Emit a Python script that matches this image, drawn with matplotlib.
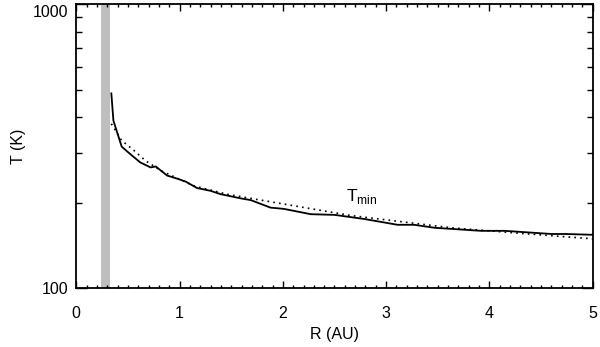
import matplotlib
matplotlib.use("Agg")
import matplotlib.pyplot as plt
import matplotlib.transforms as mtransforms
from matplotlib.ticker import FixedLocator, MultipleLocator, NullFormatter

plt.rcParams["font.family"] = ["Liberation Sans", "DejaVu Sans"]

# 实线：模拟得到的最低温度
r_solid = [0.34, 0.36, 0.44, 0.52, 0.62, 0.72, 0.77, 0.88, 0.99, 1.06, 1.17, 1.30,
           1.40, 1.59, 1.69, 1.88, 2.01, 2.27, 2.50, 2.79, 3.11, 3.27, 3.47, 3.92,
           4.15, 4.60, 4.73, 5.0]
t_solid = [485, 389, 315, 297, 277, 266, 268, 249, 242, 237, 225, 220,
           214, 207, 204, 192, 190, 182, 181, 175, 167, 167, 163, 159,
           159, 155, 155, 154]

# 点线：解析近似
r_dot = [0.34, 0.44, 0.56, 0.67, 0.82, 1.14, 1.46, 1.72, 2.66, 3.63, 4.28, 5.0]
t_dot = [379, 331, 305, 281, 259, 229, 214, 206, 180, 163, 156, 149]

band = (0.24, 0.33)
label_pos = (2.61, 210)

fig = plt.figure(figsize=(6.0, 3.47), dpi=100)
ax = fig.add_axes([0.127, 0.170, 0.861, 0.818])

ax.axvspan(*band, color="#bebebe", lw=0)
ax.plot(r_solid, t_solid, color="black", lw=1.3)
ax.plot(r_dot, t_dot, color="black", lw=1.2, ls=(0, (1, 2.5)))

ax.set_yscale("log")
ax.set_xlim(0, 5)
ax.set_ylim(100, 1000)
ax.yaxis.set_major_locator(FixedLocator([100, 1000]))
ax.yaxis.set_minor_locator(FixedLocator([200, 300, 400, 500, 600, 700, 800, 900]))
ax.yaxis.set_minor_formatter(NullFormatter())
ax.set_yticklabels(["100", "1000"])
ax.xaxis.set_major_locator(MultipleLocator(1))
ax.xaxis.set_minor_locator(MultipleLocator(0.1))

ax.tick_params(which="both", direction="in", top=True, right=True, labelsize=11.5, width=1)
ax.tick_params(axis="x", which="major", length=5, pad=13)
ax.tick_params(axis="x", which="minor", length=2.5)
ax.tick_params(axis="y", which="major", length=8, pad=5.5)
ax.tick_params(axis="y", which="minor", length=4.5)
for sp in ax.spines.values():
    sp.set_linewidth(1.3)

# 参考图里顶端的 1000 标签略往下挪，不贴着边
top_label = ax.yaxis.get_major_ticks()[1].label1
top_label.set_transform(top_label.get_transform()
                        + mtransforms.ScaledTranslation(0, -7 / 100, fig.dpi_scale_trans))

ax.text(*label_pos, r"T$_{\mathregular{min}}$", fontsize=12.5, ha="left", va="center")
ax.set_xlabel("R (AU)", fontsize=11.5, labelpad=4)
ax.set_ylabel("T (K)", fontsize=11.5, labelpad=5)

fig.savefig("out.png", dpi=100)
